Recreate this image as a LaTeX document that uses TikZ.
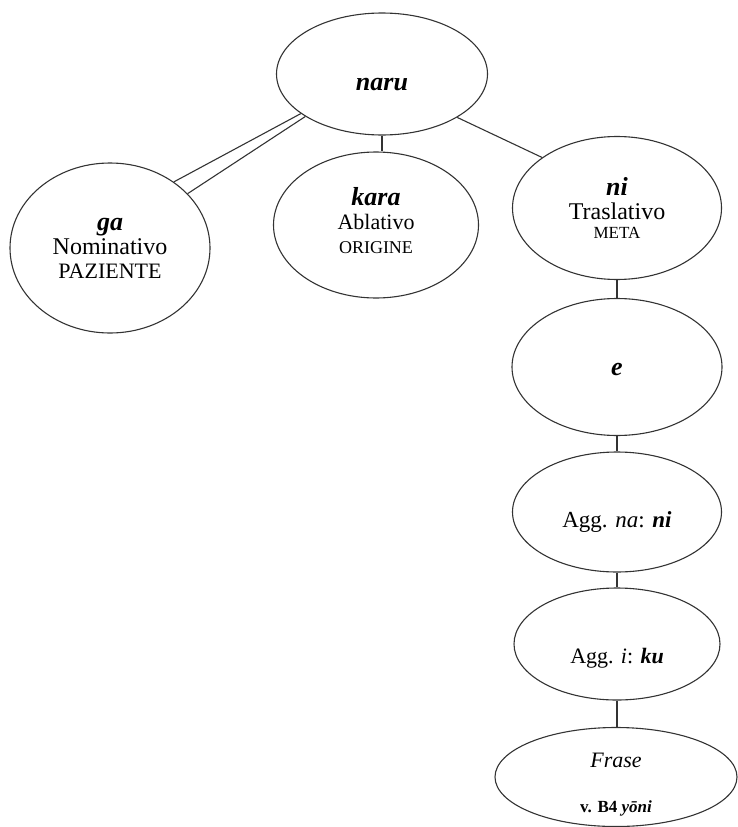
\documentclass[tikz,border=0pt]{standalone}
\usepackage{fontspec}
\setmainfont{Liberation Serif}
\usetikzlibrary{shapes.geometric}

\newcommand{\parola}[1]{{\fontsize{26}{28}\selectfont\textbf{\textit{#1}}}}
\newcommand{\ruolo}[2]{{\fontsize{#1}{22}\selectfont #2}}

\begin{document}
\begin{tikzpicture}[x=1pt, y=-1pt,
        caso/.style={ellipse, draw=black!80, line width=1.1pt, inner sep=0pt,
            align=center, font=\fontsize{24}{24}\selectfont},
        link/.style={draw=black!80, line width=1.1pt}]
    \useasboundingbox (0,0) rectangle (737,827);

    \coordinate (N) at (382,74);
    \coordinate (G) at (110,248);
    \coordinate (K) at (376,225);
    \coordinate (T) at (617,208);

    \node[caso, minimum width=211, minimum height=122,
        text height=32pt, text depth=0pt] (naru) at (N) {\parola{naru}};
    \node[caso, minimum width=200, minimum height=170] (ga) at (G)
        {\parola{ga}\\Nominativo\\\ruolo{22}{PAZIENTE}};
    \node[caso, minimum width=205, minimum height=146] (kara) at (K)
        {\parola{kara}\\{\fontsize{22}{24}\selectfont Ablativo}\\\ruolo{18}{ORIGINE}\rule[-10pt]{0pt}{10pt}};
    \node[caso, minimum width=209, minimum height=143] (ni) at (T)
        {\parola{ni}\\Traslativo\\[-5pt]\ruolo{17}{META}};

    % colonna di destra
    \node[caso, minimum width=210, minimum height=137,
        text height=16pt, text depth=0pt] (e) at (617,367) {\parola{e}};
    \node[caso, minimum width=209, minimum height=120, font=\fontsize{23}{24}\selectfont,
        text height=30pt, text depth=0pt] (aggna) at (617,512)
        {Agg. \textit{na}: \textbf{\textit{ni}}};
    \node[caso, minimum width=206, minimum height=112, font=\fontsize{22}{24}\selectfont,
        text height=38pt, text depth=0pt] (aggi) at (617,644)
        {Agg. \textit{i}: \textbf{\textit{ku}}};
    \node[caso, minimum width=242, minimum height=99,
        text height=70pt, text depth=0pt] (frase) at (616,777)
        {{\fontsize{22}{24}\selectfont\textit{Frase}}\\[21pt]%
         {\fontsize{17}{19}\selectfont\textbf{v. B4 \textit{yōni}}}};

    \draw[link] (naru.209) -- (ga.35);
    \draw[link] (naru.206) -- (ga.46);
    \draw[link] (naru.south) -- (naru.south |- kara.north);
    \draw[link] (naru.-30) -- (ni.146);
    \draw[link] (ni.south) -- (e.north);
    \draw[link] (e.south) -- (aggna.north);
    \draw[link] (aggna.south) -- (aggi.north);
    \draw[link] (aggi.south) -- (aggi.south |- frase.north);
\end{tikzpicture}
\end{document}
